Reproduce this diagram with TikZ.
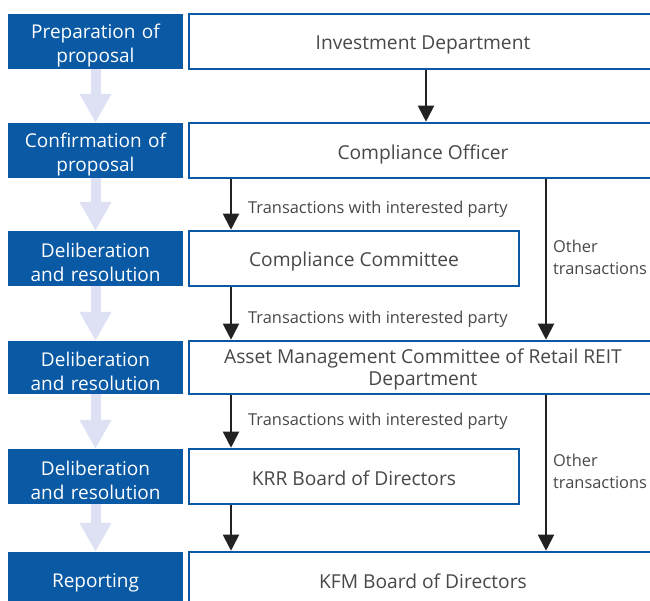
\documentclass[tikz,border=0pt]{standalone}
\usepackage{fontspec}
\setmainfont{Open Sans}
\usetikzlibrary{arrows.meta}
\definecolor{stageblue}{RGB}{9,89,165}
\definecolor{flowgray}{RGB}{72,72,72}
\definecolor{lavender}{RGB}{221,225,243}
\definecolor{arrowblack}{RGB}{34,34,34}
\tikzset{
  stagebox/.style={fill=stageblue, draw=none, minimum width=175pt, inner sep=0pt},
  stagetext/.style={text width=170pt, align=center, text=white,
    font=\fontsize{19}{24}\selectfont, inner sep=0pt},
  bodybox/.style={draw=stageblue, line width=2.6pt, fill=white, inner sep=0pt},
  widebox/.style={bodybox, minimum width=468pt},
  narrowbox/.style={bodybox, minimum width=330pt},
  bodytext/.style={align=center, text=flowgray, font=\fontsize{19.2}{22.5}\selectfont,
    inner sep=0pt},
  stageflow/.style={lavender, line width=10pt, -{Triangle[width=30pt,length=29pt]}},
  flow/.style={arrowblack, line width=2pt, -{Triangle[width=16pt,length=16pt]}},
  flowlabel/.style={anchor=west, text=flowgray, font=\fontsize{16.4}{22}\selectfont,
    inner sep=0pt, align=left}
}
\begin{document}
\begin{tikzpicture}[x=1pt,y=-1pt]
\useasboundingbox (0,0) rectangle (650,600);
\clip (0,0) rectangle (650,600);

% stage column
\node[stagebox, minimum height=55pt] (prep)    at (95.5,41.5)  {};
\node[stagebox, minimum height=55pt] (confirm) at (95.5,150.5) {};
\node[stagebox, minimum height=55pt] (delibA)  at (95.5,258.5) {};
\node[stagebox, minimum height=53pt] (delibB)  at (95.5,367.5) {};
\node[stagebox, minimum height=55pt] (delibC)  at (95.5,476.5) {};
\node[stagebox, minimum height=56pt] (report)  at (95.5,580)   {};

\node[stagetext] (prepT)    at ([yshift=-4pt]prep.center)    {Preparation of\\proposal};
\node[stagetext] (confirmT) at ([yshift=-4pt]confirm.center) {Confirmation of\\proposal};
\node[stagetext] (delibAT)  at ([yshift=-4pt]delibA.center)  {Deliberation\\and resolution};
\node[stagetext] (delibBT)  at ([yshift=-4pt]delibB.center)  {Deliberation\\and resolution};
\node[stagetext] (delibCT)  at ([yshift=-4pt]delibC.center)  {Deliberation\\and resolution};
\node[stagetext] (reportT)  at ([yshift=-2.5pt]report.center)  {Reporting};

% bodies in charge
\node[widebox, minimum height=55pt]   (invest)  at (423,41.5)  {};
\node[widebox, minimum height=55pt]   (officer) at (423,150.5) {};
\node[narrowbox, minimum height=55pt] (ccomm)   at (354,258.5) {};
\node[widebox, minimum height=53pt]   (amc)     at (423,367.5) {};
\node[narrowbox, minimum height=55pt] (krr)     at (354,476.5) {};
\node[widebox, minimum height=56pt]   (kfm)     at (423,580)   {};

\node[bodytext] (investT)  at ([yshift=-3.5pt]invest.center)  {Investment Department};
\node[bodytext] (officerT) at ([yshift=-3.5pt]officer.center) {Compliance Officer};
\node[bodytext] (ccommT)   at ([yshift=-3pt]ccomm.center)     {Compliance Committee};
\node[bodytext] (amcT)     at ([yshift=-2pt]amc.center)       {Asset Management Committee of Retail REIT\\Department};
\node[bodytext] (krrT)     at ([yshift=-2pt]krr.center)       {KRR Board of Directors};
\node[bodytext] (kfmT)     at ([yshift=-1.5pt]kfm.center)     {KFM Board of Directors};

% stage progression
\draw[stageflow] (prep.south)    -- (confirm.north);
\draw[stageflow] (confirm.south) -- (delibA.north);
\draw[stageflow] (delibA.south)  -- (delibB.north);
\draw[stageflow] (delibB.south)  -- (delibC.north);
\draw[stageflow] (delibC.south)  -- (report.north);

% decision flow
\coordinate (mainx) at (426,0);
\coordinate (leftx) at (231,0);
\coordinate (otherx) at (546,0);
\draw[flow] (invest.south -| mainx) -- (officer.north -| mainx);
\draw[flow] (officer.south -| leftx) -- (ccomm.north -| leftx);
\draw[flow] (ccomm.south -| leftx) -- (amc.north -| leftx);
\draw[flow] (amc.south -| leftx) -- (krr.north -| leftx);
\draw[flow] (krr.south -| leftx) -- (kfm.north -| leftx);
\draw[flow] (officer.south -| otherx) -- (amc.north -| otherx);
\draw[flow] (amc.south -| otherx) -- (kfm.north -| otherx);

\node[flowlabel] (tipA) at (248,209) {Transactions with interested party};
\node[flowlabel] (tipB) at (248,319) {Transactions with interested party};
\node[flowlabel] (tipC) at (248,421) {Transactions with interested party};
\node[flowlabel] (otherA) at (553,257) {Other\\transactions};
\node[flowlabel] (otherB) at (553,471) {Other\\transactions};
\end{tikzpicture}
\end{document}
